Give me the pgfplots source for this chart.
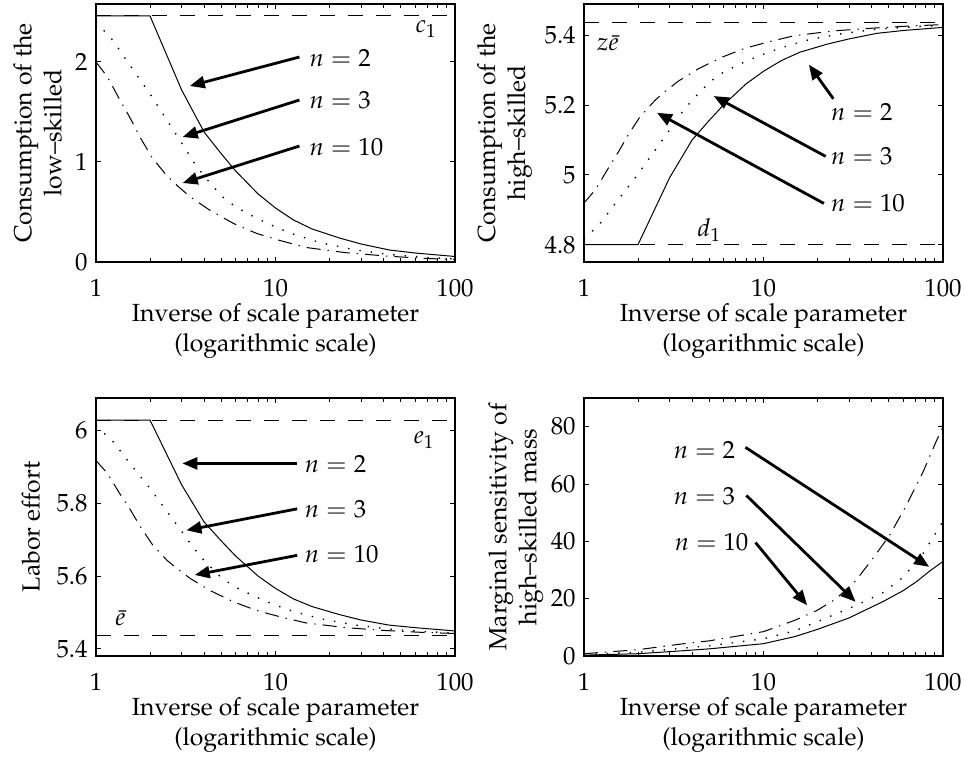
\documentclass[border=0pt,12pt]{standalone}
\usepackage[T1]{fontenc}
\usepackage{mathpazo}
\usepackage{pgfplots}
\pgfplotsset{compat=1.18}
\usetikzlibrary{arrows.meta}

\tikzset{
  refline/.style={black, line width=0.5pt, dash pattern=on 7.5pt off 6.5pt},
  ntwo/.style={black, line width=0.5pt},
  nthree/.style={black, line width=0.7pt, dash pattern=on 0.7pt off 5pt},
  nten/.style={black, line width=0.5pt, dash pattern=on 7pt off 3.5pt on 0.7pt off 3.5pt},
  arr/.style={black, line width=1.4pt, -{Triangle[length=7.5pt,width=6pt]}},
  lab/.style={inner sep=0pt},
}
\pgfplotsset{
  panel/.style={
    scale only axis,
    width=179.5pt, height=129pt,
    anchor=south west,
    xmin=1, xmax=100,
    xtick={1,10,100}, log ticks with fixed point,
    tick align=inside,
    major tick length=2.5pt, minor tick length=1.8pt,
    axis line style={line width=0.8pt},
    every tick/.style={black, line width=0.5pt},
    xticklabel style={yshift=-4.5pt},
    xlabel={Inverse of scale parameter\\(logarithmic scale)},
    xlabel style={align=center, yshift=5pt},
    ylabel style={align=center},
  },
}

\begin{document}
\begin{tikzpicture}[font=\fontsize{12.4}{15}\selectfont]
\path[use as bounding box] (0,0) rectangle (482pt,378.5pt);

% ---- top left: consumption of the low-skilled ----
\begin{semilogxaxis}[panel, at={(48pt,247.5pt)},
    ymin=0, ymax=2.58, ytick={0,1,2},
    ylabel shift=-1.5pt,
    ylabel={Consumption of the\\low--skilled}]
\addplot[refline] coordinates {(1,2.46) (100,2.46)};
\addplot[ntwo] coordinates {
  (1,2.46) (2,2.46) (3,1.72) (4,1.30) (5,1.08) (6,0.91) (8,0.68) (10,0.54)
  (12.6,0.42) (16,0.33) (22.7,0.24) (30,0.18) (43,0.12) (60,0.09) (100,0.055)};
\addplot[nthree] coordinates {
  (1,2.40) (1.25,2.21) (1.5,2.0) (2,1.68) (2.5,1.41) (3,1.19) (3.5,1.00) (4,0.86)
  (5,0.66) (6,0.55) (8,0.43) (10,0.35) (12.5,0.28) (18,0.19) (28,0.12) (43,0.075)
  (70,0.045) (100,0.03)};
\addplot[nten] coordinates {
  (1,2.0) (1.16,1.85) (1.34,1.64) (1.56,1.43) (1.77,1.24) (2.06,1.04) (2.49,0.86)
  (2.89,0.75) (3.36,0.65) (4.33,0.515) (5.84,0.385) (7.87,0.285) (10.6,0.215)
  (14.8,0.145) (24.7,0.093) (41.2,0.06) (65.8,0.037) (100,0.025)};
\draw[arr] (axis cs:13.6,2.05) -- (axis cs:3.33,1.76);
\draw[arr] (axis cs:13.6,1.62) -- (axis cs:3.04,1.25);
\draw[arr] (axis cs:13.6,1.16) -- (axis cs:3.04,0.79);
\node[lab, anchor=west] at (axis cs:15.4,2.04) {$n=2$};
\node[lab, anchor=west] at (axis cs:15.4,1.62) {$n=3$};
\node[lab, anchor=west] at (axis cs:15.4,1.153) {$n=10$};
\node at (axis cs:69,2.33) {$c_1$};
\end{semilogxaxis}

% ---- top right: consumption of the high-skilled ----
\begin{semilogxaxis}[panel, at={(292pt,247.5pt)},
    ymin=4.75, ymax=5.49, ytick={4.8,5,5.2,5.4},
    ylabel shift=-2pt,
    ylabel={Consumption of the\\high--skilled}]
\addplot[refline] coordinates {(1,5.438) (100,5.438)};
\addplot[refline] coordinates {(1,4.8) (100,4.8)};
\addplot[ntwo] coordinates {
  (1,4.800) (2,4.800) (3,4.992) (4,5.100) (5,5.157) (6,5.201) (8,5.261) (10,5.297)
  (12.6,5.328) (16,5.352) (22.7,5.375) (30,5.390) (43,5.406) (60,5.414) (100,5.423)};
\addplot[nthree] coordinates {
  (1,4.815) (1.25,4.865) (1.5,4.919) (2,5.002) (2.5,5.072) (3,5.129) (3.5,5.178)
  (4,5.214) (5,5.266) (6,5.295) (8,5.326) (10,5.346) (12.5,5.364) (18,5.388)
  (28,5.406) (43,5.418) (70,5.425) (100,5.429)};
\addplot[nten] coordinates {
  (1,4.919) (1.16,4.958) (1.34,5.012) (1.56,5.067) (1.77,5.116) (2.06,5.168)
  (2.49,5.214) (2.89,5.243) (3.36,5.269) (4.33,5.304) (5.84,5.337) (7.87,5.363)
  (10.6,5.381) (14.8,5.399) (24.7,5.413) (41.2,5.421) (65.8,5.427) (100,5.431)};
\draw[arr] (axis cs:24.5,5.218) -- (axis cs:17.9,5.316);
\draw[arr] (axis cs:22.2,5.053) -- (axis cs:5.28,5.226);
\draw[arr] (axis cs:21.7,4.918) -- (axis cs:2.55,5.178);
\node[lab, anchor=west] at (axis cs:23.7,5.18) {$n=2$};
\node[lab, anchor=west] at (axis cs:23.7,5.052) {$n=3$};
\node[lab, anchor=west] at (axis cs:23.7,4.918) {$n=10$};
\node at (axis cs:1.36,5.378) {$z\bar{e}$};
\node at (axis cs:4.99,4.842) {$d_1$};
\end{semilogxaxis}

% ---- bottom left: labor effort ----
\begin{semilogxaxis}[panel, at={(48pt,50.5pt)},
    ymin=5.38, ymax=6.09, ytick={5.4,5.6,5.8,6},
    ylabel={Labor effort}]
\addplot[refline] coordinates {(1,6.029) (100,6.029)};
\addplot[refline] coordinates {(1,5.436) (100,5.436)};
\addplot[ntwo] coordinates {
  (1,6.029) (2,6.029) (3,5.851) (4,5.749) (5,5.696) (6,5.655) (8,5.600) (10,5.566)
  (12.6,5.537) (16,5.516) (22.7,5.494) (30,5.479) (43,5.465) (60,5.458) (100,5.449)};
\addplot[nthree] coordinates {
  (1,6.014) (1.25,5.969) (1.5,5.918) (2,5.841) (2.5,5.776) (3,5.723) (3.5,5.677)
  (4,5.643) (5,5.595) (6,5.569) (8,5.540) (10,5.520) (12.5,5.503) (18,5.482)
  (28,5.465) (43,5.454) (70,5.447) (100,5.443)};
\addplot[nten] coordinates {
  (1,5.918) (1.16,5.882) (1.34,5.831) (1.56,5.781) (1.77,5.735) (2.06,5.687)
  (2.49,5.643) (2.89,5.617) (3.36,5.593) (4.33,5.560) (5.84,5.529) (7.87,5.505)
  (10.6,5.488) (14.8,5.471) (24.7,5.458) (41.2,5.450) (65.8,5.445) (100,5.442)};
\draw[arr] (axis cs:13.2,5.91) -- (axis cs:3.03,5.91);
\draw[arr] (axis cs:13.2,5.785) -- (axis cs:3.19,5.726);
\draw[arr] (axis cs:13.2,5.657) -- (axis cs:3.55,5.603);
\node[lab, anchor=west] at (axis cs:14.5,5.908) {$n=2$};
\node[lab, anchor=west] at (axis cs:14.5,5.783) {$n=3$};
\node[lab, anchor=west] at (axis cs:14.5,5.66) {$n=10$};
\node at (axis cs:67.3,5.974) {$e_1$};
\node at (axis cs:1.37,5.484) {$\bar{e}$};
\end{semilogxaxis}

% ---- bottom right: marginal sensitivity ----
\begin{semilogxaxis}[panel, at={(292pt,50.5pt)},
    ymin=0, ymax=90, ytick={0,20,40,60,80},
    ylabel shift=-4.5pt,
    ylabel={Marginal sensitivity of\\high--skilled mass}]
\addplot[ntwo] coordinates {
  (1,0.3) (2,0.8) (3.5,1.8) (5,2.5) (10,4.3) (15,6.8) (20,9.3) (30,13.3)
  (46,18.9) (60,22.8) (71,25.9) (85,29.8) (100,33)};
\addplot[nthree] coordinates {
  (1,0.5) (2,1.3) (3.5,2.7) (5,3.6) (10,6.0) (15,8.8) (20,12) (33,17.7)
  (46,22) (60,27.5) (77,35.5) (100,47)};
\addplot[nten] coordinates {
  (1,0.8) (2,2.2) (3.5,4.2) (5,5.3) (10,8.5) (15,12.5) (20,16) (25.4,20)
  (32.8,26.4) (40.6,34) (50.4,42.1) (62.4,52.5) (77.3,64.1) (91.8,75) (100,80)};
\draw[arr] (axis cs:7.93,72.8) -- (axis cs:83.8,31.1);
\draw[arr] (axis cs:8.03,56) -- (axis cs:32.6,18.9);
\draw[arr] (axis cs:9.02,39.6) -- (axis cs:17.5,17.7);
\node[lab, anchor=east] at (axis cs:6.98,71.7) {$n=2$};
\node[lab, anchor=east] at (axis cs:6.98,55.8) {$n=3$};
\node[lab, anchor=east] at (axis cs:8.28,39.8) {$n=10$};
\end{semilogxaxis}
\end{tikzpicture}
\end{document}
